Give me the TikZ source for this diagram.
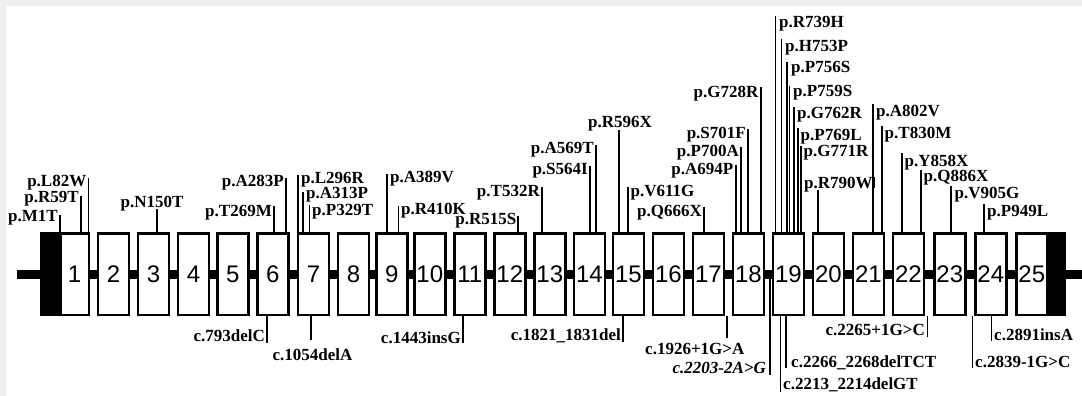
\documentclass[tikz,border=0pt]{standalone}
\usepackage{fontspec}
\setmainfont{Liberation Serif}
\newfontfamily\numfont{Liberation Sans}
\newcommand\mystup[3]{\draw[stm] (#1,#2) -- (#1,0 |- e#3.north);}
\newcommand\mystdn[3]{\draw[stm] (#1,0 |- e#3.south) -- (#1,#2);}
\begin{document}
\begin{tikzpicture}[x=1pt,y=-1pt,
  lab/.style={font=\bfseries\fontsize{17}{17}\selectfont, inner sep=0pt},
  stm/.style={line width=1.3pt},
  exon/.style={draw, line width=2.5pt, fill=white, minimum width=31pt, minimum height=81.5pt, inner sep=0pt, font=\numfont\fontsize{24}{24}\selectfont}]
\useasboundingbox (0,0) rectangle (1082,396);
\fill[gray!12] (0,0) rectangle (1082,396);
\fill[white] (6,6.5) rectangle (1082,396);
% backbone and UTR blocks
\draw[line width=9pt] (17,274) -- (1082,274);
\fill (40,232) rectangle (60,316);
\fill (1047,232) rectangle (1066,316);
% exons
\node[exon, minimum width=28.5pt] (e1) at (74.5,274) {1};
\foreach \i/\l in {2/96.7,3/136.7,4/176.7,5/216,6/256,7/296.7,8/336.7,9/375,10/413,11/453,12/493,13/533,14/572.7,15/611.7,16/651.7,17/691.7,18/731.7,19/771.7,20/811.7,21/851.7,22/891.7,23/933,24/974,25/1015}
  \node[exon] (e\i) at (\l+16.75,274) {\i};
% top labels
\node[lab,anchor=base east] (M1T) at (58,221) {p.M1T}; \mystup{60}{215}{1}
\node[lab,anchor=base east] (R59T) at (79,202) {p.R59T}; \mystup{81}{196}{1}
\node[lab,anchor=base east] (L82W) at (86.5,186) {p.L82W}; \mystup{88.5}{178}{1}
\node[lab,anchor=base] (N150T) at (152,207) {p.N150T}; \mystup{157}{209}{3}
\node[lab,anchor=base east] (T269M) at (272,216) {p.T269M}; \mystup{274}{206}{6}
\node[lab,anchor=base east] (A283P) at (284,186) {p.A283P}; \mystup{286}{178}{6}
\node[lab,anchor=base west] (L296R) at (301,183) {p.L296R}; \mystup{298}{175}{7}
\node[lab,anchor=base west] (A313P) at (306,198) {p.A313P}; \mystup{303}{192}{7}
\node[lab,anchor=base west] (P329T) at (312,215.5) {p.P329T}; \mystup{309.5}{205}{7}
\node[lab,anchor=base west] (A389V) at (390,182) {p.A389V}; \mystup{387}{174}{9}
\node[lab,anchor=base west] (R410K) at (401,214) {p.R410K}; \mystup{398.5}{206}{9}
\node[lab,anchor=base east] (R515S) at (516.5,224) {p.R515S}; \mystup{518}{216}{12}
\node[lab,anchor=base east] (T532R) at (540,196) {p.T532R}; \mystup{542}{187}{13}
\node[lab,anchor=base east] (S564I) at (588,174) {p.S564I}; \mystup{590}{166}{14}
\node[lab,anchor=base east] (A569T) at (594,153) {p.A569T}; \mystup{596}{145}{14}
\node[lab,anchor=base] (R596X) at (620,128) {p.R596X}; \mystup{619}{130}{15}
\node[lab,anchor=base west] (V611G) at (630.5,196) {p.V611G}; \mystup{628}{187}{15}
\node[lab,anchor=base east] (Q666X) at (702,216) {p.Q666X}; \mystup{704}{207}{17}
\node[lab,anchor=base east] (A694P) at (733.5,174) {p.A694P}; \mystup{736}{165}{18}
\node[lab,anchor=base east] (P700A) at (739,156) {p.P700A}; \mystup{741}{147}{18}
\node[lab,anchor=base east] (S701F) at (746,138) {p.S701F}; \mystup{748}{129}{18}
\node[lab,anchor=base east] (G728R) at (758.5,98) {p.G728R}; \mystup{761}{87}{18}
\node[lab,anchor=base west] (R739H) at (779,28) {p.R739H}; \mystup{775.5}{16}{19}
\node[lab,anchor=base west] (H753P) at (785,52) {p.H753P}; \mystup{781.5}{39}{19}
\node[lab,anchor=base west] (P756S) at (791,73) {p.P756S}; \mystup{787}{62}{19}
\node[lab,anchor=base west] (P759S) at (793,96) {p.P759S}; \mystup{789.5}{86}{19}
\node[lab,anchor=base west] (G762R) at (797,118) {p.G762R}; \mystup{794}{107}{19}
\node[lab,anchor=base west] (P769L) at (800.5,140) {p.P769L}; \mystup{798}{128}{19}
\node[lab,anchor=base west] (G771R) at (803.5,156) {p.G771R}; \mystup{801}{146}{19}
\node[lab,anchor=base west] (R790W) at (804,188) {p.R790W}; \mystup{818}{190}{20}
\draw[stm] ([xshift=1.5pt]R790W.base east) -- ([xshift=1.5pt,yshift=11pt]R790W.base east);
\node[lab,anchor=base west] (A802V) at (876,117) {p.A802V}; \mystup{873}{104}{21}
\node[lab,anchor=base west] (T830M) at (884.5,138) {p.T830M}; \mystup{882}{126}{21}
\node[lab,anchor=base west] (Y858X) at (904.5,166) {p.Y858X}; \mystup{902}{153}{22}
\node[lab,anchor=base west] (Q886X) at (923.5,181) {p.Q886X}; \mystup{921}{170}{22}
\node[lab,anchor=base west] (V905G) at (954.5,198) {p.V905G}; \mystup{951}{186}{23}
\node[lab,anchor=base west] (P949L) at (987,216) {p.P949L}; \mystup{984}{204}{24}
% bottom labels
\node[lab,anchor=base east] (c793) at (265,341) {c.793delC}; \mystdn{267}{343}{6}
\node[lab,anchor=base] (c1054) at (312.5,360) {c.1054delA}; \mystdn{311}{340}{7}
\node[lab,anchor=base east] (c1443) at (461,343) {c.1443insG}; \mystdn{463}{343}{11}
\node[lab,anchor=base east] (c1821) at (621,340) {c.1821\_1831del}; \mystdn{623}{342}{15}
\node[lab,anchor=base west] (c1926) at (645,354) {c.1926+1G>A}; \mystdn{727}{338}{17}
\node[lab,anchor=base east,font=\bfseries\itshape\fontsize{17}{17}\selectfont] (c2203) at (766,373) {c.2203-2A>G};
\draw[stm] (770,278) -- (770,375);
\node[lab,anchor=base west] (c2213) at (783,389) {c.2213\_2214delGT}; \mystdn{780.5}{392}{19}
\node[lab,anchor=base west] (c2266) at (791,367) {c.2266\_2268delTCT}; \mystdn{786}{368}{19}
\node[lab,anchor=base east] (c2265) at (925,335) {c.2265+1G>C}; \mystdn{927.5}{337}{22}
\node[lab,anchor=base west] (c2891) at (994,340) {c.2891insA}; \mystdn{991.5}{341}{24}
\node[lab,anchor=base west] (c2839) at (975,367) {c.2839-1G>C}; \mystdn{972.5}{368}{24}
\end{tikzpicture}
\end{document}
